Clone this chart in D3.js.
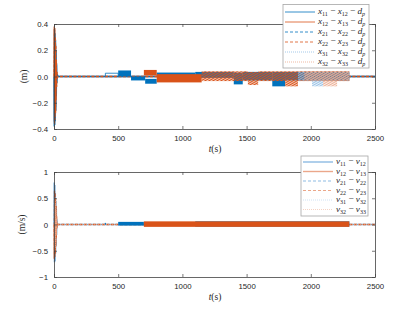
<!DOCTYPE html>
<html><head><meta charset="utf-8">
<script src="https://cdn.jsdelivr.net/npm/d3@7"></script>
<style>body{margin:0;background:#fff}</style>
</head><body>
<svg id="c" width="415" height="312"></svg>
<script>
// ---------- data ----------
const xTicks = [0, 500, 1000, 1500, 2000, 2500];
const posTicks = [-0.4, -0.2, 0, 0.2, 0.4];
const velTicks = [-1, -0.5, 0, 0.5, 1];

const transT         = [0, 2, 4, 6, 8, 10, 12, 14, 16, 18, 20, 22, 25, 30, 2500];
const posTransBlue   = [0, -0.38, 0.36, -0.37, 0.33, -0.34, 0.28, -0.26, 0.2, -0.15, 0.1, -0.05, 0.02, 0, 0];
const posTransOrange = [0, 0.38, -0.36, 0.37, -0.33, 0.3, -0.28, 0.24, -0.18, 0.13, -0.08, 0.04, -0.01, 0, 0];
const velTransBlue   = [0, 0.8, -0.72, 0.75, -0.7, 0.6, -0.55, 0.45, -0.4, 0.3, -0.2, 0.1, -0.03, 0, 0];
const velTransOrange = [0, -0.65, 0.65, -0.62, 0.6, -0.55, 0.5, -0.42, 0.35, -0.25, 0.16, -0.08, 0.02, 0, 0];

const posStepT    = [400, 400, 500, 500];
const posStepBlue = [0, 0.025, 0.025, 0];
const velSpikeT   = [400, 400, 400];
const velSpike    = [0, 0.03, 0];

// oscillation envelopes: [t0, t1, low, high]
const posBandsBlue = [
  [500, 600, 0.0, 0.046], [600, 710, -0.03, 0.0], [710, 800, -0.055, -0.018],
  [800, 1100, 0.005, 0.03], [1100, 1400, -0.01, 0.035], [1400, 1470, -0.06, 0.03],
  [1470, 1700, -0.03, 0.035], [1700, 1800, -0.075, 0.035], [1800, 2300, -0.03, 0.035]
];
const posBandsOrange = [
  [700, 800, 0.008, 0.05], [800, 1150, -0.045, 0.018], [1150, 1510, -0.035, 0.04],
  [1510, 1590, -0.065, 0.035], [1590, 1800, -0.035, 0.04], [1800, 1900, -0.075, 0.04],
  [1900, 2300, -0.035, 0.04]
];
const posBandsLightBlue   = [[1900, 2300, -0.03, 0.035], [2010, 2095, -0.075, -0.03]];
const posBandsLightOrange = [[1950, 2300, -0.03, 0.035], [2095, 2205, -0.075, -0.03]];

const velBandsBlue   = [[500, 700, -0.02, 0.05], [1100, 2300, -0.04, 0.06]];
const velBandsOrange = [[700, 2300, -0.045, 0.06]];

const posLegend = [["x","11","x","12"],["x","12","x","13"],["x","21","x","22"],["x","22","x","23"],["x","31","x","32"],["x","32","x","33"]];
const velLegend = [["v","11","v","12"],["v","12","v","13"],["v","21","v","22"],["v","22","v","23"],["v","31","v","32"],["v","32","v","33"]];

// ---------- drawing ----------
const BLUE = "#0072BD", ORANGE = "#D95319", LBLUE = "#8dbbe3", LORANGE = "#eba78a";
const MIX_T = 1100;
const svg = d3.select("#c");
svg.append("rect").attr("width",415).attr("height",312).attr("fill","#fff");
const defs = svg.append("defs");
function hatch(id, color, w, s) {
  const p = defs.append("pattern").attr("id", id).attr("width", s).attr("height", s)
    .attr("patternUnits", "userSpaceOnUse").attr("patternTransform", "rotate(60)");
  p.append("rect").attr("width", w).attr("height", s).attr("fill", color);
}
hatch("hO", ORANGE, 1.3, 2);
hatch("hLB", LBLUE, 1.2, 2);
hatch("hLO", LORANGE, 1.2, 2);

const x = d3.scaleLinear().domain([0, 2500]).range([54, 375]);
const AX = "#404040";

function panel(top, bottom, yDomain, yTicks, yFmt, yLabel, ylabX) {
  const y = d3.scaleLinear().domain(yDomain).range([bottom, top]);
  const g = svg.append("g");
  g.append("clipPath").attr("id", "cp" + top).append("rect")
    .attr("x", 53).attr("y", top).attr("width", 322).attr("height", bottom - top);
  const plot = g.append("g").attr("clip-path", `url(#cp${top})`);
  const ax = svg.append("g").attr("class", "axes");
  ax.append("g").attr("transform", `translate(0,${bottom})`)
    .call(d3.axisBottom(x).tickValues(xTicks).tickSizeInner(-3).tickSizeOuter(0).tickPadding(6).tickFormat(d3.format("d")));
  ax.append("g").attr("transform", `translate(0,${top})`)
    .call(d3.axisTop(x).tickValues(xTicks).tickSizeInner(-3).tickSizeOuter(0).tickFormat(""));
  ax.append("g").attr("transform", `translate(54,0)`)
    .call(d3.axisLeft(y).tickValues(yTicks).tickSizeInner(-3).tickSizeOuter(0).tickPadding(6).tickFormat(yFmt));
  ax.append("g").attr("transform", `translate(375,0)`)
    .call(d3.axisRight(y).tickValues(yTicks).tickSizeInner(-3).tickSizeOuter(0).tickFormat(""));
  ax.selectAll("path.domain").attr("stroke", AX).attr("stroke-width", 0.8);
  ax.selectAll(".tick line").attr("stroke", AX).attr("stroke-width", 0.7);
  ax.selectAll(".tick text").attr("fill", "#262626").attr("font-family", "Liberation Sans, Arial, sans-serif").attr("font-size", 7.8);
  svg.append("text").attr("x", 215).attr("y", bottom + 23).attr("text-anchor", "middle")
    .attr("font-family", "Liberation Serif, serif").attr("font-size", 9.5).attr("fill", "#262626")
    .html('<tspan font-style="italic">t</tspan>(s)');
  svg.append("text").attr("transform", `translate(${ylabX},${(top + bottom) / 2}) rotate(-90)`)
    .attr("text-anchor", "middle").attr("font-family", "Liberation Serif, serif")
    .attr("font-size", 9.5).attr("fill", "#262626").text(yLabel);
  return {y, plot, ax};
}

function bands(plot, y, data, fill, op) {
  plot.append("g").selectAll("rect").data(data).join("rect")
    .attr("x", d => x(d[0])).attr("width", d => x(d[1]) - x(d[0]))
    .attr("y", d => y(d[3])).attr("height", d => Math.max(1, y(d[2]) - y(d[3])))
    .attr("fill", typeof fill === "function" ? fill : () => fill).attr("opacity", op);
}
function line(plot, y, ts, vs, color, w, dash) {
  const l = d3.line().x(d => x(d[0])).y(d => y(d[1]));
  plot.append("path").datum(ts.map((t, i) => [t, vs[i]])).attr("d", l)
    .attr("fill", "none").attr("stroke", color).attr("stroke-width", w)
    .attr("stroke-dasharray", dash || null);
}
const orangeFill = d => d[0] < MIX_T ? ORANGE : "url(#hO)";

// top panel
const P = panel(24, 129, [-0.4, 0.4], posTicks, d3.format(".1f"), "(m)", 27);
line(P.plot, P.y, transT, posTransBlue.map(v => v * 0.9), LBLUE, 1.5);
line(P.plot, P.y, transT, posTransOrange.map(v => v * 0.95), LORANGE, 1.5);
line(P.plot, P.y, transT, posTransBlue, BLUE, 1.3);
line(P.plot, P.y, transT, posTransOrange, ORANGE, 1.3, "3,1.5");
line(P.plot, P.y, posStepT, posStepBlue, BLUE, 0.8);
bands(P.plot, P.y, posBandsBlue, BLUE, 1);
bands(P.plot, P.y, posBandsOrange, orangeFill, 1);
bands(P.plot, P.y, posBandsLightBlue, "url(#hLB)", 0.9);
bands(P.plot, P.y, posBandsLightOrange, "url(#hLO)", 0.9);
P.ax.raise();

// bottom panel
const V = panel(172, 277, [-1, 1], velTicks, d => d === 0 ? "0" : d3.format("")(d), "(m/s)", 25);
line(V.plot, V.y, transT, velTransBlue, "#6aa6d8", 1.5);
line(V.plot, V.y, transT, velTransOrange, ORANGE, 1.3, "3,1.5");
line(V.plot, V.y, transT, velTransOrange.map(v => v * 0.8), LORANGE, 0.9, "1,1");
line(V.plot, V.y, velSpikeT, velSpike, BLUE, 0.8);
bands(V.plot, V.y, velBandsBlue, BLUE, 1);
bands(V.plot, V.y, velBandsOrange, orangeFill, 1);
V.ax.raise();

// legends
function legend(bx, by, bw, bh, rows, y0, dy, lx0, lx1, tx, styles, withD) {
  const g = svg.append("g");
  g.append("rect").attr("x", bx).attr("y", by).attr("width", bw).attr("height", bh)
    .attr("fill", "#fff").attr("stroke", "#a6a6a6").attr("stroke-width", 0.8);
  rows.forEach((r, i) => {
    const yy = y0 + i * dy;
    const s = styles[i];
    g.append("line").attr("x1", lx0).attr("x2", lx1).attr("y1", yy).attr("y2", yy)
      .attr("stroke", s[0]).attr("stroke-width", s[1]).attr("stroke-dasharray", s[2] || null);
    let h = `<tspan font-style="italic">${r[0]}</tspan><tspan font-size="6" dy="1.6">${r[1]}</tspan>` +
      `<tspan dy="-1.6"> − </tspan><tspan font-style="italic">${r[2]}</tspan><tspan font-size="6" dy="1.6">${r[3]}</tspan>`;
    if (withD) h += `<tspan dy="-1.6"> − </tspan><tspan font-style="italic">d</tspan><tspan font-size="6" font-style="italic" dy="1.6">p</tspan>`;
    g.append("text").attr("x", tx).attr("y", yy + 2.4)
      .attr("font-family", "Liberation Serif, serif").attr("font-size", 9.2).attr("fill", "#262626").html(h);
  });
}
legend(283, 4.5, 86, 63.5, posLegend, 12, 10, 285, 315, 318,
  [[BLUE, 0.8], [ORANGE, 0.8], [BLUE, 0.8, "3,2"], [ORANGE, 0.8, "3,2"], [LBLUE, 0.8, "1,1"], [LORANGE, 0.8, "1,1"]], true);
legend(301, 156, 67, 60, velLegend, 162, 9.5, 303, 333, 336,
  [[LBLUE, 1.4], [LORANGE, 1.4], [LBLUE, 1.2, "3,2"], [LORANGE, 1.2, "3,2"], ["#cfe2f3", 1, "1,1"], ["#f5d3c4", 1, "1,1"]], false);
</script>
</body></html>
